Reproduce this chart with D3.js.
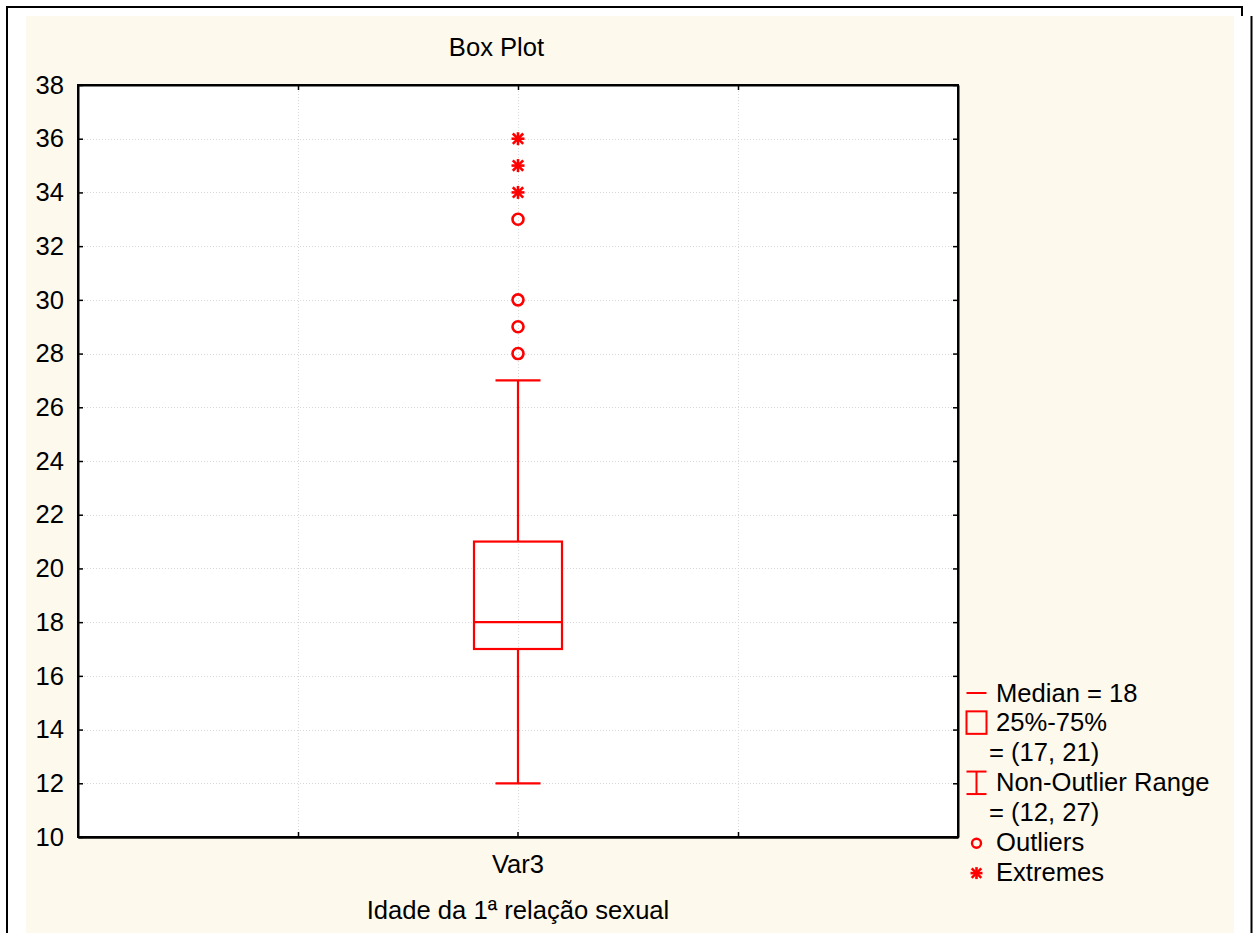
<!DOCTYPE html>
<html>
<head>
<meta charset="utf-8">
<script src="https://cdn.jsdelivr.net/npm/d3@7"></script>
<style>
  body { margin: 0; background: #fff; }
  text { font-family: "Liberation Sans", Arial, sans-serif; fill: #000; }
</style>
</head>
<body>
<div id="chart"></div>
<script>
// data
const categories = ['Var3'];
const medians = [18];
const q1s = [17];
const q3s = [21];
const whiskerLows = [12];
const whiskerHighs = [27];
const outliers = [28, 29, 30, 33];
const extremes = [34, 35, 36];
const yTicks = [10, 12, 14, 16, 18, 20, 22, 24, 26, 28, 30, 32, 34, 36, 38];
const legendItems = ['Median = 18', '25%-75%', '= (17, 21)', 'Non-Outlier Range', '= (12, 27)', 'Outliers', 'Extremes'];

const width = 1253;
const height = 933;
const red = '#ff0000';
const fontSize = 25.6;
const plot = { left: 78, right: 958, top: 85, bottom: 837 };

const svg = d3.select('#chart').append('svg')
  .attr('width', width)
  .attr('height', height);

// outer frame + cream panel
svg.append('rect').attr('x', 26).attr('y', 16).attr('width', 1208).attr('height', height - 16)
  .attr('fill', '#fdf9ed');
svg.append('path')
  .attr('d', 'M7,933 V7 H1242 V16 M1251.5,16 V933')
  .attr('fill', 'none').attr('stroke', '#000').attr('stroke-width', 2);

const y = d3.scaleLinear().domain([10, 38]).range([plot.bottom, plot.top]);
const x = d3.scaleBand().domain(categories).range([plot.left, plot.right]);
const quarters = [0.25, 0.5, 0.75].map((f) => plot.left + f * (plot.right - plot.left));

svg.append('rect')
  .attr('x', plot.left).attr('y', plot.top)
  .attr('width', plot.right - plot.left).attr('height', plot.bottom - plot.top)
  .attr('fill', '#fff');

// dotted grid
const grid = svg.append('g').attr('stroke', '#d8d8d8').attr('stroke-width', 1).attr('stroke-dasharray', '1,2');
grid.selectAll('line.h')
  .data(yTicks.slice(1, -1))
  .join('line')
  .attr('x1', plot.left).attr('x2', plot.right)
  .attr('y1', (d) => Math.round(y(d)) + 0.5).attr('y2', (d) => Math.round(y(d)) + 0.5);
grid.selectAll('line.v')
  .data(quarters)
  .join('line')
  .attr('x1', (d) => Math.round(d) + 0.5).attr('x2', (d) => Math.round(d) + 0.5)
  .attr('y1', plot.top).attr('y2', plot.bottom);

// axes
svg.append('g')
  .attr('transform', `translate(${plot.left},0)`)
  .call(d3.axisLeft(y).tickValues(yTicks).tickSizeInner(-5).tickSizeOuter(0).tickPadding(14));
svg.append('g')
  .attr('transform', `translate(${plot.right},0)`)
  .call(d3.axisRight(y).tickValues(yTicks).tickSizeInner(-5).tickSizeOuter(0).tickFormat(''));

svg.append('g')
  .attr('transform', `translate(0,${plot.bottom})`)
  .call(d3.axisBottom(x).tickSizeInner(-5).tickSizeOuter(0).tickPadding(18));
const xTickScale = d3.scaleLinear().domain([0, 1]).range([plot.left, plot.right]);
svg.append('g')
  .attr('transform', `translate(0,${plot.bottom})`)
  .call(d3.axisBottom(xTickScale).tickValues([0.25, 0.75]).tickSizeInner(-5).tickSizeOuter(0).tickFormat(''));
svg.append('g')
  .attr('transform', `translate(0,${plot.top})`)
  .call(d3.axisTop(xTickScale).tickValues([0.25, 0.5, 0.75]).tickSizeInner(-5).tickSizeOuter(0).tickFormat(''));

svg.selectAll('.domain').attr('stroke', '#000').attr('stroke-width', 2);
svg.selectAll('.tick line').attr('stroke', '#000').attr('stroke-width', 1.5);
svg.selectAll('.tick text').attr('font-size', fontSize).attr('font-family', '"Liberation Sans", Arial, sans-serif');

// plot frame
svg.append('rect')
  .attr('x', plot.left).attr('y', plot.top)
  .attr('width', plot.right - plot.left).attr('height', plot.bottom - plot.top)
  .attr('fill', 'none').attr('stroke', '#000').attr('stroke-width', 2);

function drawStar(g, cx, cy, r) {
  const s = g.append('g').attr('stroke-width', 2.6);
  s.append('line').attr('x1', cx).attr('x2', cx).attr('y1', cy - r).attr('y2', cy + r);
  s.append('line').attr('x1', cx - r).attr('x2', cx + r).attr('y1', cy).attr('y2', cy);
  s.append('line').attr('x1', cx - r * 0.8).attr('x2', cx + r * 0.8).attr('y1', cy - r * 0.8).attr('y2', cy + r * 0.8);
  s.append('line').attr('x1', cx - r * 0.8).attr('x2', cx + r * 0.8).attr('y1', cy + r * 0.8).attr('y2', cy - r * 0.8);
}

// box plot
const boxHalf = 44;
const capHalf = 22.5;
const bp = svg.append('g').attr('stroke', red).attr('stroke-width', 2.2).attr('fill', 'none');
categories.forEach((cat, i) => {
  const cx = x(cat) + x.bandwidth() / 2;
  bp.append('line').attr('x1', cx).attr('x2', cx).attr('y1', y(whiskerHighs[i])).attr('y2', y(q3s[i]));
  bp.append('line').attr('x1', cx).attr('x2', cx).attr('y1', y(q1s[i])).attr('y2', y(whiskerLows[i]));
  bp.append('line').attr('x1', cx - capHalf).attr('x2', cx + capHalf).attr('y1', y(whiskerHighs[i])).attr('y2', y(whiskerHighs[i]));
  bp.append('line').attr('x1', cx - capHalf).attr('x2', cx + capHalf).attr('y1', y(whiskerLows[i])).attr('y2', y(whiskerLows[i]));
  bp.append('rect').attr('x', cx - boxHalf).attr('y', y(q3s[i]))
    .attr('width', boxHalf * 2).attr('height', y(q1s[i]) - y(q3s[i]));
  bp.append('line').attr('x1', cx - boxHalf).attr('x2', cx + boxHalf).attr('y1', y(medians[i])).attr('y2', y(medians[i]));

  bp.selectAll('circle.out')
    .data(outliers)
    .join('circle')
    .attr('class', 'out')
    .attr('stroke-width', 2.6)
    .attr('cx', cx).attr('cy', (d) => y(d)).attr('r', 5.5);

  extremes.forEach((d) => drawStar(bp, cx, y(d), 6.5));
});

// titles
svg.append('text').attr('x', 496.5).attr('y', 56).attr('text-anchor', 'middle')
  .attr('font-size', fontSize).text('Box Plot');
svg.append('text').attr('x', (plot.left + plot.right) / 2).attr('y', 919).attr('text-anchor', 'middle')
  .attr('font-size', fontSize).text('Idade da 1ª relação sexual');

// legend
const lg = svg.append('g');
const rowY = (i) => 701.5 + i * 29.85;
lg.selectAll('text')
  .data(legendItems)
  .join('text')
  .attr('x', (d) => (d.startsWith('=') ? 989 : 996))
  .attr('y', (d, i) => rowY(i))
  .attr('font-size', fontSize)
  .text((d) => d);

const lx = 976.5;
const sym = lg.append('g').attr('stroke', red).attr('stroke-width', 2).attr('fill', 'none');
sym.append('line').attr('x1', lx - 10).attr('x2', lx + 10).attr('y1', rowY(0) - 8.5).attr('y2', rowY(0) - 8.5);
sym.append('rect').attr('x', lx - 10).attr('y', rowY(1) - 20).attr('width', 20).attr('height', 22.5);
sym.append('line').attr('x1', lx).attr('x2', lx).attr('y1', rowY(3) - 19.5).attr('y2', rowY(3) + 3);
sym.append('line').attr('x1', lx - 10).attr('x2', lx + 10).attr('y1', rowY(3) - 19.5).attr('y2', rowY(3) - 19.5);
sym.append('line').attr('x1', lx - 10).attr('x2', lx + 10).attr('y1', rowY(3) + 3).attr('y2', rowY(3) + 3);
sym.append('circle').attr('cx', lx).attr('cy', rowY(5) - 7.5).attr('r', 4.5).attr('stroke-width', 2.4);
drawStar(sym, lx, rowY(6) - 7.5, 6);
</script>
</body>
</html>
